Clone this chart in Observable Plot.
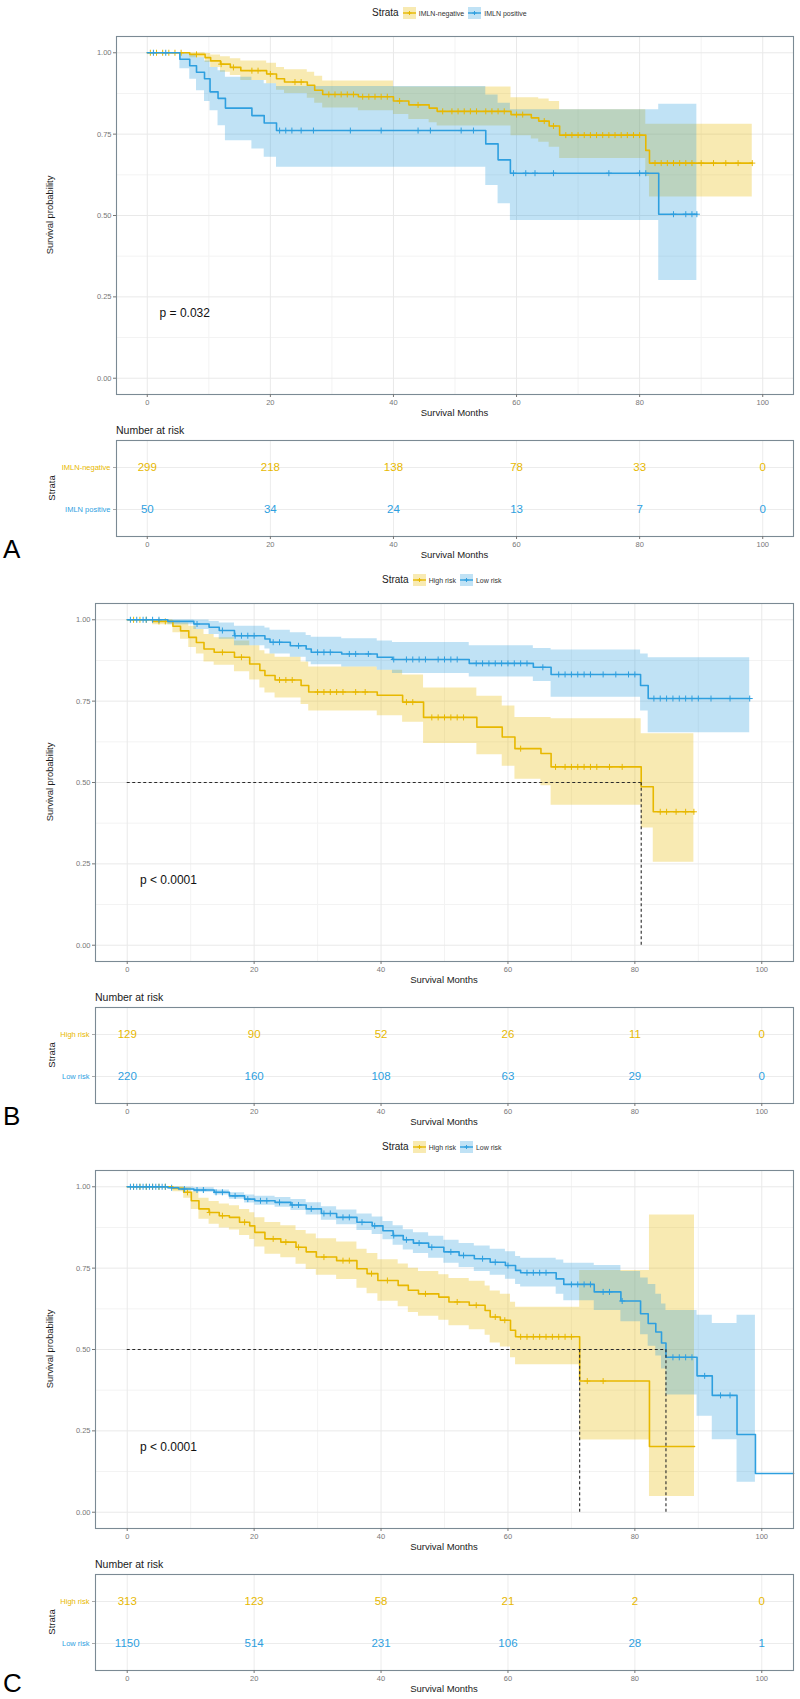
<!DOCTYPE html>
<html><head><meta charset="utf-8">
<script src="https://cdn.jsdelivr.net/npm/d3@7"></script>
<script src="https://cdn.jsdelivr.net/npm/@observablehq/plot@0.6"></script>
<style>
body{margin:0;background:#fff;font-family:"Liberation Sans",Arial,sans-serif;}
#root{position:relative;width:800px;height:1699px;overflow:hidden;background:#fff;}
.abs{position:absolute;white-space:nowrap;line-height:1;}
.leg{position:absolute;display:flex;align-items:center;white-space:nowrap;line-height:1;}
</style></head><body><div id="root"></div>
<script>
// ---------- DATA ----------
const Y = "#E7B800", B = "#2E9FDF";
const xTicks = [0, 20, 40, 60, 80, 100];
const yTicks = [0, 0.25, 0.5, 0.75, 1];
const riskTimes = [0, 20, 40, 60, 80, 100];

// Panel A
const strataA = ["IMLN-negative", "IMLN positive"];
const pvalA = "p = 0.032";
const A_neg_t  = [0, 6.9, 9.4, 10.3, 11.9, 13.5, 15.2, 19.4, 21, 22.3, 26, 27.2, 28.5, 34.3, 40, 42.5, 45.8, 47.1, 59.1, 62.4, 63.6, 65.3, 67, 81, 81.6];
const A_neg_s  = [1, 0.995, 0.985, 0.975, 0.965, 0.955, 0.945, 0.935, 0.92, 0.91, 0.90, 0.885, 0.872, 0.865, 0.852, 0.84, 0.83, 0.82, 0.81, 0.80, 0.79, 0.775, 0.747, 0.70, 0.661];
const A_neg_lo = [1, 0.985, 0.97, 0.955, 0.94, 0.93, 0.915, 0.905, 0.885, 0.875, 0.86, 0.845, 0.83, 0.822, 0.81, 0.795, 0.785, 0.775, 0.745, 0.735, 0.725, 0.71, 0.675, 0.62, 0.557];
const A_neg_hi = [1, 1, 0.998, 0.993, 0.988, 0.982, 0.975, 0.968, 0.955, 0.948, 0.94, 0.928, 0.913, 0.913, 0.895, 0.895, 0.895, 0.895, 0.862, 0.862, 0.858, 0.85, 0.825, 0.78, 0.78];
const A_neg_end = 98.3;
const A_neg_cens = [0.5, 1.5, 2.5, 3.5, 4.5, 5.5, 8, 12, 14, 17, 18, 20, 24, 25, 29.5, 30.5, 31.5, 32.5, 33.5, 35, 36, 37, 38, 39, 41, 44, 48, 49.5, 50.5, 51.5, 52.5, 53.5, 55, 56, 57, 58, 60, 61, 64.5, 66, 68, 69, 70, 71, 72, 73, 74, 75, 76, 77, 78, 79, 80, 82.5, 83.5, 84.5, 85.5, 86.5, 87.5, 88.5, 90, 92, 94, 96, 98.3];
const A_pos_t  = [0, 5.3, 6.9, 8.0, 9.3, 10.2, 11.5, 12.7, 17, 19, 21, 55, 57, 59, 83.1];
const A_pos_s  = [1, 0.98, 0.96, 0.94, 0.92, 0.88, 0.86, 0.83, 0.807, 0.784, 0.761, 0.72, 0.671, 0.63, 0.504];
const A_pos_lo = [1, 0.951, 0.919, 0.883, 0.85, 0.822, 0.776, 0.73, 0.704, 0.679, 0.648, 0.592, 0.536, 0.485, 0.30];
const A_pos_hi = [1, 1, 0.995, 0.985, 0.975, 0.955, 0.945, 0.925, 0.915, 0.905, 0.896, 0.87, 0.845, 0.825, 0.842];
const A_pos_end = 89.3;
const A_pos_cens = [1, 3, 21.5, 22.5, 23.5, 25, 27, 33, 38, 44, 46, 51, 53, 59.5, 61.5, 63, 66, 75, 80, 81, 85.5, 87.5, 88.5, 89.3];
const A_neg_risk = [299, 218, 138, 78, 33, 0];
const A_pos_risk = [50, 34, 24, 13, 7, 0];

// Panel B
const strataB = ["High risk", "Low risk"];
const pvalB = "p < 0.0001";
const B_high_t  = [0, 4, 7.2, 8.4, 9.7, 10.9, 12.1, 13.7, 16.9, 19.3, 20.9, 21.7, 23.3, 27.4, 28.6, 39.4, 43.4, 46.7, 55.1, 59.1, 61.1, 65.2, 66.8, 81, 82.9];
const B_high_s  = [1, 0.995, 0.98, 0.966, 0.946, 0.93, 0.91, 0.90, 0.885, 0.864, 0.844, 0.829, 0.815, 0.798, 0.778, 0.768, 0.747, 0.70, 0.67, 0.64, 0.604, 0.589, 0.548, 0.487, 0.41];
const B_high_lo = [1, 0.985, 0.96, 0.94, 0.915, 0.895, 0.87, 0.86, 0.84, 0.815, 0.79, 0.775, 0.76, 0.74, 0.72, 0.705, 0.685, 0.62, 0.585, 0.55, 0.51, 0.49, 0.43, 0.36, 0.255];
const B_high_hi = [1, 1, 0.998, 0.99, 0.98, 0.97, 0.955, 0.945, 0.935, 0.92, 0.905, 0.895, 0.885, 0.87, 0.855, 0.845, 0.83, 0.79, 0.765, 0.735, 0.70, 0.70, 0.696, 0.65, 0.65];
const B_high_end = 89.3;
const B_high_cens = [1, 2, 3, 5, 6, 15, 18, 24, 25, 26, 30, 31, 32, 33, 34, 36, 37.5, 44, 45, 48, 49, 50, 51, 52, 53, 62, 67.5, 69, 70, 71, 72, 73, 74, 76, 78, 84, 85, 86.5, 88, 89.3];
const B_low_t  = [0, 6.4, 10.5, 12.9, 14.5, 16.9, 21.7, 22.5, 25.7, 28.2, 29, 33.8, 39.4, 41.8, 53.9, 64, 66.8, 80.9, 82.1];
const B_low_s  = [1, 0.995, 0.987, 0.977, 0.967, 0.951, 0.941, 0.931, 0.92, 0.91, 0.90, 0.895, 0.885, 0.878, 0.866, 0.854, 0.832, 0.798, 0.758];
const B_low_lo = [1, 0.985, 0.97, 0.955, 0.94, 0.92, 0.91, 0.895, 0.885, 0.87, 0.862, 0.855, 0.845, 0.835, 0.824, 0.81, 0.762, 0.72, 0.653];
const B_low_hi = [1, 1, 0.999, 0.995, 0.99, 0.98, 0.975, 0.968, 0.96, 0.952, 0.946, 0.942, 0.935, 0.93, 0.92, 0.912, 0.907, 0.895, 0.883];
const B_low_end = 98.1;
const B_low_cens = [0.5, 1.5, 2.5, 3, 4, 5, 11, 15, 17, 18, 19, 20, 23, 24, 27, 30, 31, 32, 35, 36, 38, 42, 44, 45, 46, 47, 49, 50, 51, 52, 55, 56, 57, 58, 59, 60, 61, 62, 63, 65.5, 68, 69, 70, 71, 72, 73, 75, 77, 79, 80, 83, 84, 85, 86, 87, 88, 89, 90, 92, 95, 98.1];
const B_high_risk = [129, 90, 52, 26, 11, 0];
const B_low_risk = [220, 160, 108, 63, 29, 0];

// Panel C
const strataC = ["High risk", "Low risk"];
const pvalC = "p < 0.0001";
const C_high_t  = [0, 7.2, 8.9, 10.1, 11.3, 12.9, 14.5, 16.1, 17.7, 19.3, 20.1, 21.7, 24.2, 26.6, 28.2, 29.8, 33, 36.2, 37.8, 39.5, 42.7, 44.3, 45.9, 49.1, 50.7, 53.9, 56.4, 57.2, 58.8, 60.4, 61.2, 71.3, 82.3];
const C_high_s  = [1, 0.995, 0.983, 0.957, 0.932, 0.921, 0.911, 0.906, 0.891, 0.88, 0.86, 0.84, 0.83, 0.814, 0.80, 0.784, 0.773, 0.748, 0.733, 0.712, 0.697, 0.682, 0.671, 0.661, 0.646, 0.636, 0.62, 0.60, 0.59, 0.559, 0.539, 0.403, 0.202];
const C_high_lo = [1, 0.985, 0.965, 0.93, 0.90, 0.885, 0.873, 0.867, 0.85, 0.838, 0.815, 0.793, 0.782, 0.762, 0.746, 0.728, 0.715, 0.688, 0.671, 0.648, 0.631, 0.614, 0.602, 0.59, 0.573, 0.561, 0.544, 0.52, 0.508, 0.475, 0.453, 0.222, 0.048];
const C_high_hi = [1, 1, 0.998, 0.985, 0.965, 0.955, 0.947, 0.942, 0.93, 0.92, 0.905, 0.89, 0.88, 0.866, 0.855, 0.84, 0.83, 0.808, 0.795, 0.776, 0.763, 0.75, 0.74, 0.73, 0.718, 0.71, 0.695, 0.68, 0.67, 0.645, 0.63, 0.743, 0.913];
const C_high_end = 89.4;
const C_high_cens = [1, 2, 3, 4, 5, 6, 9.5, 13, 15, 18.5, 23, 25, 27, 31, 34, 35, 38.5, 41, 47, 52, 55, 58, 59.5, 62, 63, 64, 65, 66, 67, 68, 69, 70, 72.5, 75];
const C_low_t  = [0, 6.4, 8.1, 10.5, 13.7, 16.1, 18.5, 20.1, 23.3, 25.8, 28.2, 30.6, 33, 36.2, 38.6, 40.3, 41.9, 43.5, 45.1, 47.5, 49.9, 52.3, 54.7, 57.2, 59.6, 61.2, 62, 67.6, 68.8, 73.6, 77.8, 80.9, 82.1, 83.3, 84.2, 84.9, 89.8, 92.2, 96.1, 99];
const C_low_s  = [1, 0.997, 0.993, 0.99, 0.983, 0.972, 0.962, 0.957, 0.952, 0.944, 0.932, 0.918, 0.906, 0.891, 0.88, 0.865, 0.85, 0.837, 0.827, 0.814, 0.80, 0.789, 0.779, 0.768, 0.758, 0.743, 0.736, 0.717, 0.70, 0.677, 0.649, 0.61, 0.58, 0.554, 0.52, 0.476, 0.419, 0.359, 0.239, 0.119];
const C_low_lo = [1, 0.993, 0.988, 0.983, 0.975, 0.962, 0.95, 0.943, 0.937, 0.927, 0.913, 0.897, 0.883, 0.866, 0.853, 0.837, 0.82, 0.806, 0.795, 0.78, 0.765, 0.752, 0.74, 0.728, 0.716, 0.70, 0.692, 0.67, 0.65, 0.62, 0.585, 0.545, 0.51, 0.48, 0.44, 0.36, 0.295, 0.223, 0.092, null];
const C_low_hi = [1, 1, 0.999, 0.997, 0.99, 0.982, 0.975, 0.971, 0.967, 0.961, 0.951, 0.939, 0.929, 0.916, 0.907, 0.893, 0.88, 0.868, 0.859, 0.848, 0.836, 0.826, 0.818, 0.808, 0.80, 0.786, 0.78, 0.775, 0.765, 0.758, 0.74, 0.72, 0.70, 0.67, 0.64, 0.62, 0.605, 0.58, 0.605, null];
const C_low_end = 105;
const C_low_cens = [0.5, 1, 1.5, 2, 2.5, 3, 3.5, 4, 4.5, 5, 5.5, 6, 7, 9, 11, 12, 14, 15, 17, 19, 21, 22, 24, 26, 27, 29, 31, 32, 34, 35, 37, 39, 42, 44, 46, 48, 51, 53, 56, 58, 60, 63, 64, 65, 66, 70, 71, 72, 73, 75, 76, 78, 86, 87, 88, 89, 91, 93.5, 95];
const C_high_risk = [313, 123, 58, 21, 2, 0];
const C_low_risk = [1150, 514, 231, 106, 28, 1];

const pvalCoord = [2, 0.2];

// ---------- HELPERS ----------
const FONT = '"Liberation Sans", Arial, sans-serif';
const root = document.getElementById("root");
function addText(txt, x, y, size, opts = {}) {
  const d = document.createElement("div");
  d.className = "abs";
  d.textContent = txt;
  d.style.left = x + "px"; d.style.top = y + "px";
  d.style.fontSize = size + "px";
  d.style.color = opts.color || "#1a1a1a";
  const tx = opts.anchor === "start" ? "0" : "-50%";
  d.style.transform = `translate(${tx},-50%)` + (opts.rotate ? ` rotate(${opts.rotate}deg)` : "");
  root.appendChild(d);
}
function place(svg, top) {
  svg.style.position = "absolute"; svg.style.left = "0px"; svg.style.top = top + "px";
  root.appendChild(svg);
}
function lineData(t, s, end) {
  return t.map((ti, i) => ({t: ti, s: s[i]})).concat([{t: end, s: s[s.length - 1]}]);
}
function bandData(t, lo, hi, end) {
  const out = [];
  for (let i = 0; i < t.length; i++) {
    if (lo[i] == null) { out.push({t: t[i], lo: lo[i - 1], hi: hi[i - 1]}); return out; }
    out.push({t: t[i], lo: lo[i], hi: hi[i]});
  }
  out.push({t: end, lo: lo[lo.length - 1], hi: hi[hi.length - 1]});
  return out;
}
function survAt(t, s, time) { let v = s[0]; for (let i = 0; i < t.length; i++) if (t[i] <= time) v = s[i]; return v; }
function median(t, s) { for (let i = 0; i < t.length; i++) if (s[i] <= 0.5) return t[i]; return null; }

function legend(T, left, strata) {
  const d = document.createElement("div");
  d.className = "leg";
  d.style.left = left + "px"; d.style.top = (T + 13) + "px"; d.style.transform = "translateY(-50%)";
  const colors = [Y, B];
  let html = `<span style="font-size:10px;color:#1a1a1a;margin-right:4px">Strata</span>`;
  strata.forEach((s, i) => {
    const c = colors[i];
    html += `<svg width="13" height="12" style="display:block"><rect width="13" height="12" fill="${c}" fill-opacity="0.3"/><line x1="0" x2="13" y1="6" y2="6" stroke="${c}" stroke-width="1.4"/><path d="M6.5 4V8M4.5 6H8.5" stroke="${c}" stroke-width="1"/></svg>`;
    html += `<span style="font-size:7px;color:#333;margin-left:3px;margin-right:4px">${s}</span>`;
  });
  d.innerHTML = html;
  root.appendChild(d);
}

const panels = [
  {T: 0, L: 116, letter: "A", strata: strataA, pval: pvalA, legLeft: 372,
   curves: [
     {color: Y, t: A_neg_t, s: A_neg_s, lo: A_neg_lo, hi: A_neg_hi, end: A_neg_end, cens: A_neg_cens, risk: A_neg_risk},
     {color: B, t: A_pos_t, s: A_pos_s, lo: A_pos_lo, hi: A_pos_hi, end: A_pos_end, cens: A_pos_cens, risk: A_pos_risk}]},
  {T: 567, L: 95, letter: "B", strata: strataB, pval: pvalB, legLeft: 382,
   curves: [
     {color: Y, t: B_high_t, s: B_high_s, lo: B_high_lo, hi: B_high_hi, end: B_high_end, cens: B_high_cens, risk: B_high_risk},
     {color: B, t: B_low_t, s: B_low_s, lo: B_low_lo, hi: B_low_hi, end: B_low_end, cens: B_low_cens, risk: B_low_risk}]},
  {T: 1134, L: 95, letter: "C", strata: strataC, pval: pvalC, legLeft: 382,
   curves: [
     {color: Y, t: C_high_t, s: C_high_s, lo: C_high_lo, hi: C_high_hi, end: C_high_end, cens: C_high_cens, risk: C_high_risk},
     {color: B, t: C_low_t, s: C_low_s, lo: C_low_lo, hi: C_low_hi, end: C_low_end, cens: C_low_cens, risk: C_low_risk}]}
];

const R = 7; // right margin
const FRAME = "#7b8a94";
panels.forEach(p => {
  const {T, L} = p;
  legend(T, p.legLeft, p.strata);

  const marks = [
    Plot.gridX({ticks: [10, 30, 50, 70, 90], stroke: "#f3f3f3", strokeOpacity: 1}),
    Plot.gridY({ticks: [0.125, 0.375, 0.625, 0.875], stroke: "#f3f3f3", strokeOpacity: 1}),
    Plot.gridX({ticks: xTicks, stroke: "#e9e9e9", strokeOpacity: 1}),
    Plot.gridY({ticks: yTicks, stroke: "#e9e9e9", strokeOpacity: 1})
  ];
  p.curves.forEach(c => marks.push(Plot.areaY(bandData(c.t, c.lo, c.hi, c.end),
    {x: "t", y1: "lo", y2: "hi", curve: "step-after", fill: c.color, fillOpacity: 0.3})));
  p.curves.forEach(c => {
    marks.push(Plot.lineY(lineData(c.t, c.s, c.end), {x: "t", y: "s", curve: "step-after", stroke: c.color, strokeWidth: 1.6}));
    marks.push(Plot.dot(c.cens.map(ct => ({t: ct, s: survAt(c.t, c.s, ct)})),
      {x: "t", y: "s", symbol: "plus", r: 2.1, stroke: c.color, strokeWidth: 1}));
  });
  const meds = p.curves.map(c => median(c.t, c.s)).filter(m => m != null);
  if (meds.length) {
    marks.push(Plot.ruleY([0.5], {x1: 0, x2: d3.max(meds), stroke: "#2a2a2a", strokeWidth: 1.1, strokeDasharray: "3,2.5"}));
    marks.push(Plot.ruleX(meds, {x: d => d, y1: 0, y2: 0.5, stroke: "#2a2a2a", strokeWidth: 1.1, strokeDasharray: "3,2.5"}));
  }
  marks.push(Plot.text([p.pval], {x: pvalCoord[0], y: pvalCoord[1], text: d => d, textAnchor: "start", fontSize: 12, fill: "#111"}));
  marks.push(Plot.frame({stroke: FRAME, strokeWidth: 1.1}));
  marks.push(Plot.axisX({ticks: xTicks, tickSize: 3, tickPadding: 2, fontSize: 7.5, color: "#777", label: null}));
  marks.push(Plot.axisY({ticks: yTicks, tickFormat: d3.format(".2f"), tickSize: 3, tickPadding: 2, fontSize: 7.5, color: "#777", label: null}));

  const surv = Plot.plot({
    width: 800, height: 400, marginLeft: L, marginRight: R, marginTop: 10, marginBottom: 32,
    x: {domain: [-5, 105]}, y: {domain: [-0.05, 1.05]},
    style: {fontFamily: FONT, background: "transparent", overflow: "visible"},
    marks
  });
  place(surv, T + 26);

  addText("Survival probability", 50, T + 215, 9.4, {rotate: -90});
  addText("Survival Months", (L + 800 - R) / 2, T + 413, 9.5);
  addText("Number at risk", L, T + 430, 10.5, {anchor: "start"});

  // risk table
  const rows = [];
  p.curves.forEach((c, i) => c.risk.forEach((n, j) => rows.push({strata: p.strata[i], t: riskTimes[j], n, color: c.color})));
  const colorOf = {[p.strata[0]]: Y, [p.strata[1]]: B};
  const table = Plot.plot({
    width: 800, height: 130, marginLeft: L, marginRight: R, marginTop: 10, marginBottom: 24,
    x: {domain: [-5, 105]},
    y: {type: "point", domain: p.strata, padding: 0.62},
    color: {type: "identity"},
    style: {fontFamily: FONT, background: "transparent", overflow: "visible"},
    marks: [
      Plot.gridX({ticks: xTicks, stroke: "#ececec", strokeOpacity: 1}),
      Plot.gridY({stroke: "#ececec", strokeOpacity: 1}),
      Plot.text(rows, {x: "t", y: "strata", text: d => String(d.n), fill: "color", fontSize: 11.5}),
      Plot.text(p.strata, {y: d => d, text: d => d, frameAnchor: "left", textAnchor: "end", dx: -6, fontSize: 7.5, fill: d => colorOf[d]}),
      Plot.frame({stroke: FRAME, strokeWidth: 1.1}),
      Plot.axisX({ticks: xTicks, tickSize: 3, tickPadding: 2, fontSize: 7.5, color: "#777", label: null}),
      Plot.axisY({tickSize: 3, tickFormat: () => "", color: "#aaa", label: null})
    ]
  });
  place(table, T + 430);
  addText("Strata", 52, T + 488, 9.5, {rotate: -90});
  addText("Survival Months", (L + 800 - R) / 2, T + 555, 9.5);
  addText(p.letter, 3, T + 549, 26, {anchor: "start", color: "#000"});
});
</script></body></html>
